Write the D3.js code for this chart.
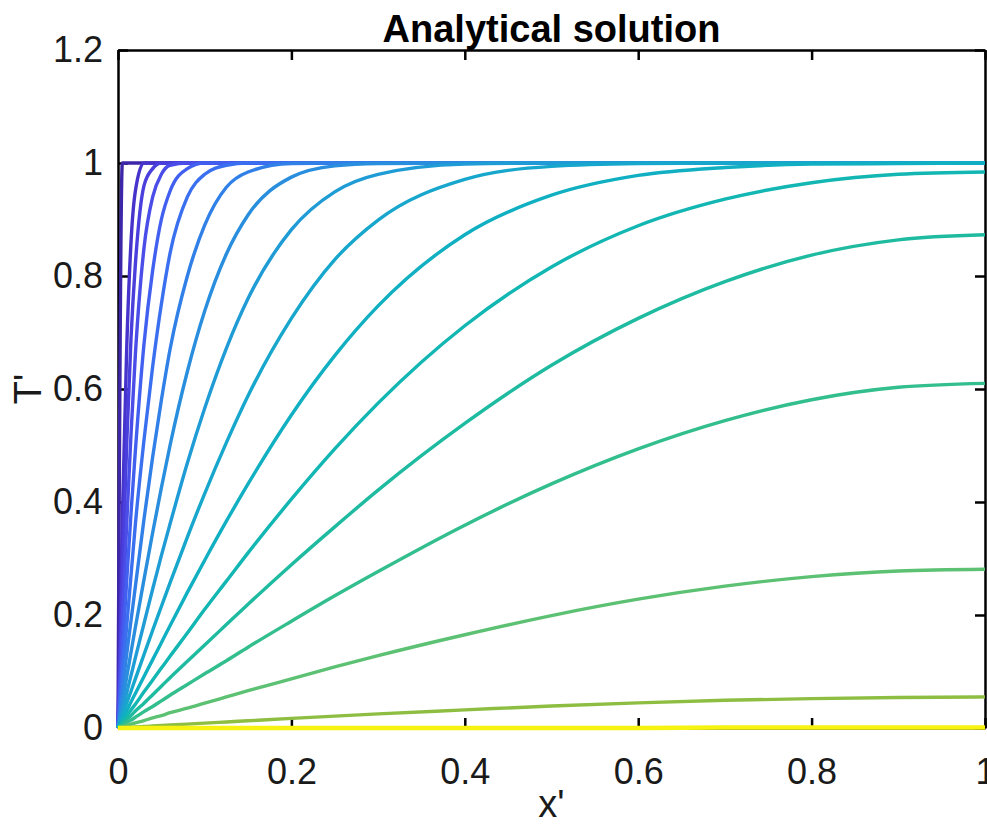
<!DOCTYPE html>
<html>
<head>
<meta charset="utf-8">
<script src="https://cdn.jsdelivr.net/npm/d3@7"></script>
<style>
  html, body { margin: 0; padding: 0; background: #fff; }
  svg { display: block; font-family: "Liberation Sans", Arial, sans-serif; }
</style>
</head>
<body>
<div id="chart"></div>
<script>
// x' sample positions shared by every curve
const xGrid = [0, 0.005, 0.01, 0.015, 0.02, 0.03, 0.04, 0.05, 0.06, 0.08, 0.1, 0.125, 0.15, 0.2, 0.25, 0.3, 0.4, 0.5, 0.6, 0.7, 0.8, 0.9, 1.0];

// T' profiles (earliest first)
const T00 = [0, 1, 1, 1, 1, 1, 1, 1, 1, 1, 1, 1, 1, 1, 1, 1, 1, 1, 1, 1, 1, 1, 1];
const T01 = [0, 0.37, 0.67, 0.86, 0.95, 1.0, 1, 1, 1, 1, 1, 1, 1, 1, 1, 1, 1, 1, 1, 1, 1, 1, 1];
const T02 = [0, 0.27, 0.50, 0.69, 0.82, 0.96, 0.99, 1, 1, 1, 1, 1, 1, 1, 1, 1, 1, 1, 1, 1, 1, 1, 1];
const T03 = [0, 0.19, 0.36, 0.52, 0.66, 0.85, 0.94, 0.98, 0.996, 1, 1, 1, 1, 1, 1, 1, 1, 1, 1, 1, 1, 1, 1];
const T04 = [0, 0.13, 0.26, 0.38, 0.49, 0.68, 0.81, 0.90, 0.95, 0.99, 1.0, 1, 1, 1, 1, 1, 1, 1, 1, 1, 1, 1, 1];
const T05 = [0, 0.09, 0.18, 0.27, 0.36, 0.51, 0.64, 0.75, 0.84, 0.94, 0.98, 0.996, 1, 1, 1, 1, 1, 1, 1, 1, 1, 1, 1];
const T06 = [0, 0.064, 0.13, 0.19, 0.25, 0.37, 0.48, 0.58, 0.67, 0.80, 0.89, 0.957, 0.984, 0.999, 1, 1, 1, 1, 1, 1, 1, 1, 1];
const T07 = [0, 0.045, 0.09, 0.134, 0.178, 0.263, 0.346, 0.425, 0.50, 0.631, 0.738, 0.839, 0.908, 0.975, 0.995, 0.999, 1, 1, 1, 1, 1, 1, 1];
const T08 = [0, 0.031, 0.062, 0.093, 0.124, 0.185, 0.246, 0.305, 0.361, 0.469, 0.566, 0.672, 0.76, 0.882, 0.949, 0.98, 0.998, 1, 1, 1, 1, 1, 1];
const T09 = [0, 0.022, 0.044, 0.065, 0.087, 0.13, 0.173, 0.215, 0.257, 0.338, 0.415, 0.505, 0.588, 0.725, 0.829, 0.899, 0.971, 0.994, 0.999, 1, 1, 1, 1];
const T10 = [0, 0.015, 0.03, 0.046, 0.061, 0.091, 0.121, 0.151, 0.181, 0.24, 0.297, 0.366, 0.432, 0.554, 0.659, 0.747, 0.873, 0.943, 0.978, 0.992, 0.998, 0.999, 1.0];
const T11 = [0, 0.011, 0.021, 0.032, 0.042, 0.064, 0.085, 0.106, 0.127, 0.168, 0.21, 0.26, 0.31, 0.405, 0.494, 0.575, 0.712, 0.816, 0.889, 0.936, 0.965, 0.98, 0.984];
const T12 = [0, 0.007, 0.015, 0.022, 0.03, 0.044, 0.059, 0.074, 0.089, 0.118, 0.147, 0.183, 0.219, 0.289, 0.356, 0.421, 0.539, 0.642, 0.725, 0.79, 0.837, 0.864, 0.873];
const T13 = [0, 0.005, 0.01, 0.014, 0.019, 0.029, 0.038, 0.048, 0.058, 0.077, 0.096, 0.119, 0.143, 0.189, 0.234, 0.277, 0.359, 0.432, 0.494, 0.544, 0.581, 0.603, 0.61];
const T14 = [0, 0.002, 0.004, 0.007, 0.009, 0.013, 0.018, 0.022, 0.027, 0.035, 0.044, 0.055, 0.066, 0.087, 0.108, 0.128, 0.165, 0.199, 0.228, 0.251, 0.268, 0.278, 0.281];
const T15 = [0, 0.0004, 0.0009, 0.0013, 0.0017, 0.0026, 0.0035, 0.0043, 0.0052, 0.0069, 0.0086, 0.0107, 0.0128, 0.017, 0.021, 0.025, 0.032, 0.039, 0.0445, 0.049, 0.052, 0.054, 0.055];
const T16 = [0, 0, 0, 0, 0, 0, 0, 0, 0, 0, 0, 0, 0, 0, 0, 0, 0, 0, 0, 0.001, 0.001, 0.001, 0.001];

const profiles = [T00, T01, T02, T03, T04, T05, T06, T07, T08, T09, T10, T11, T12, T13, T14, T15, T16];

// line colours (parula-like), same order as profiles
const lineColors = ["#3e26a8", "#4633cc", "#4a3fdc", "#4a4de8", "#4260f0", "#3a70f0", "#3080e8", "#288edd",
  "#1f9bd6", "#17a6cc", "#10b0c2", "#12b6b2", "#1fbba0", "#33be8e", "#5cc172", "#8dbe42", "#f6f310"];

const xTicks = [0, 0.2, 0.4, 0.6, 0.8, 1];
const yTicks = [0, 0.2, 0.4, 0.6, 0.8, 1, 1.2];

const W = 987, H = 825;
const margin = { top: 50, right: 2, bottom: 97, left: 118 };
const iw = W - margin.left - margin.right;
const ih = H - margin.top - margin.bottom;

const svg = d3.select("#chart").append("svg")
  .attr("width", W)
  .attr("height", H);

const g = svg.append("g")
  .attr("transform", `translate(${margin.left},${margin.top})`);

const x = d3.scaleLinear().domain([0, 1]).range([0, iw]);
const y = d3.scaleLinear().domain([0, 1.2]).range([ih, 0]);

// axes with inward ticks on all four sides (drawn under the data, like MATLAB)
const tickLen = 10;
const fmt = d => String(d);

const axB = g.append("g")
  .attr("transform", `translate(0,${ih})`)
  .call(d3.axisBottom(x).tickValues(xTicks).tickFormat(fmt).tickSizeInner(-tickLen).tickSizeOuter(0));
const axT = g.append("g")
  .call(d3.axisTop(x).tickValues(xTicks).tickFormat("").tickSizeInner(-tickLen).tickSizeOuter(0));
const axL = g.append("g")
  .call(d3.axisLeft(y).tickValues(yTicks).tickFormat(fmt).tickSizeInner(-tickLen).tickSizeOuter(0).tickPadding(15));
const axR = g.append("g")
  .attr("transform", `translate(${iw},0)`)
  .call(d3.axisRight(y).tickValues(yTicks).tickFormat("").tickSizeInner(-tickLen).tickSizeOuter(0));

[axB, axT, axL, axR].forEach(a => {
  a.select(".domain").attr("stroke", "#000").attr("stroke-width", 2.5);
  a.selectAll(".tick line").attr("stroke", "#000").attr("stroke-width", 2.5);
  a.selectAll("text")
    .attr("fill", "#1a1a1a")
    .attr("font-size", 36)
    .attr("font-family", "Liberation Sans, Arial, sans-serif");
});
axB.selectAll("text").attr("dy", "0.35em").attr("y", 43);

const line = d3.line()
  .x((d, i) => x(xGrid[i]))
  .y(d => y(d))
  .curve(d3.curveMonotoneX);

// curves
g.append("g")
  .attr("class", "curves")
  .selectAll("path")
  .data(profiles)
  .enter()
  .append("path")
  .attr("d", line)
  .attr("fill", "none")
  .attr("stroke", (d, i) => lineColors[i])
  .attr("stroke-width", (d, i) => i === profiles.length - 1 ? 4.5 : 3.4)
  .attr("stroke-linejoin", "round");

// title and axis labels
svg.append("text")
  .attr("x", margin.left + iw / 2)
  .attr("y", 42)
  .attr("text-anchor", "middle")
  .attr("font-size", 38)
  .attr("font-weight", "bold")
  .attr("fill", "#000")
  .text("Analytical solution");

svg.append("text")
  .attr("x", margin.left + iw / 2)
  .attr("y", 817)
  .attr("text-anchor", "middle")
  .attr("font-size", 38)
  .attr("fill", "#1a1a1a")
  .text("x'");

svg.append("text")
  .attr("transform", `translate(41,${margin.top + y(0.6)}) rotate(-90)`)
  .attr("text-anchor", "middle")
  .attr("font-size", 38)
  .attr("fill", "#1a1a1a")
  .text("T'");
</script>
</body>
</html>
